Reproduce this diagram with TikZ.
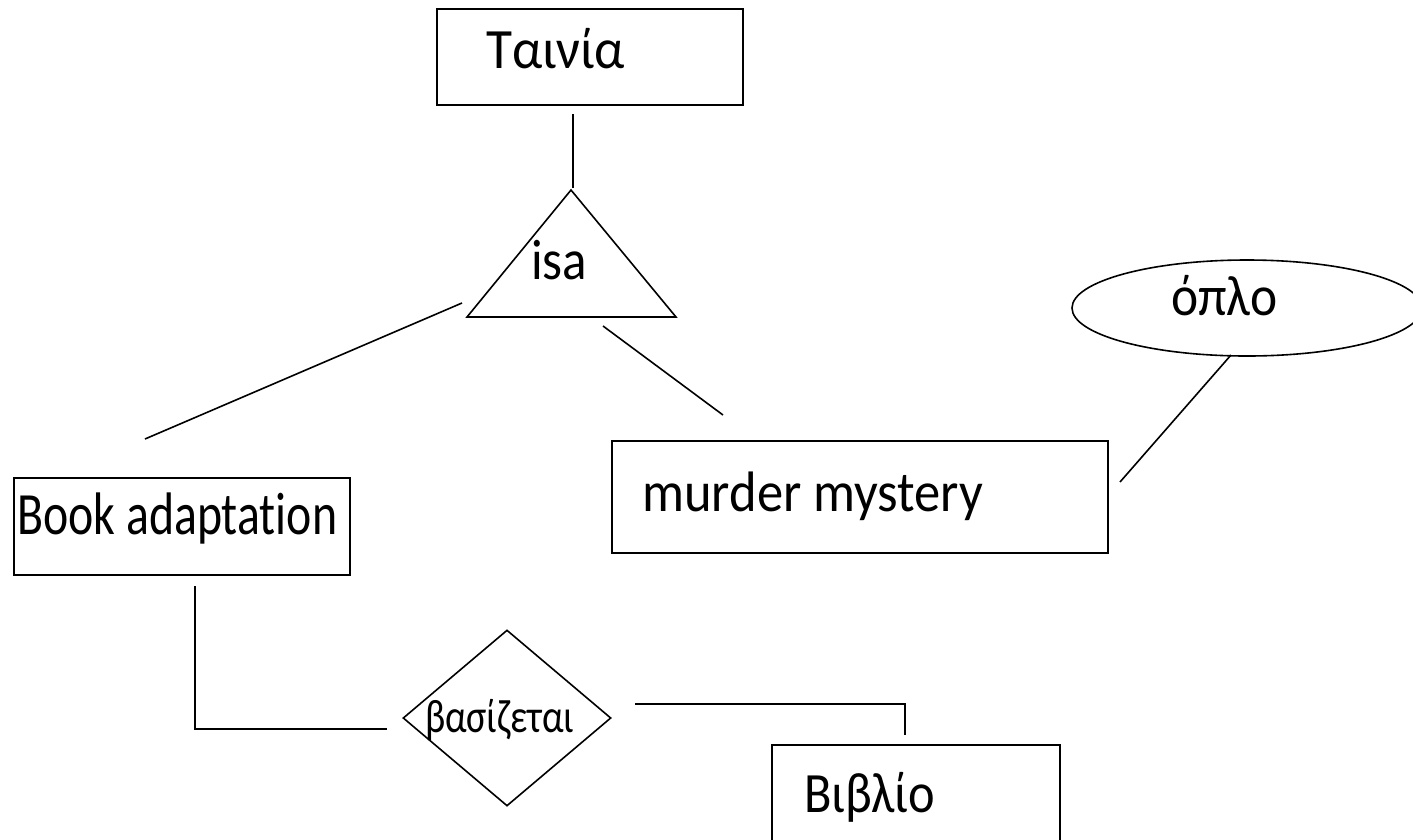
\documentclass[tikz,border=0pt]{standalone}
\usepackage{fontspec}
\setmainfont[Ligatures={NoCommon},RawFeature={-liga}]{Carlito}
\usetikzlibrary{shapes.geometric}
\newcommand\fitw[2]{\resizebox{#1}{\height}{#2}}
\begin{document}
\begin{tikzpicture}[x=1pt,y=-1pt,
  box/.style={draw, rectangle, line width=2pt, inner sep=0pt, anchor=north west},
  lbl/.style={inner sep=0pt, anchor=base west, font=\fontsize{57}{60}\selectfont},
  biglbl/.style={inner sep=0pt, anchor=base west, font=\fontsize{60}{64}\selectfont},
  smalllbl/.style={inner sep=0pt, anchor=base west, font=\fontsize{47}{50}\selectfont},
  conn/.style={line width=1.6pt}]
\useasboundingbox (0,0) rectangle (1413,839);
% entity boxes
\node[box, minimum width=306pt, minimum height=96pt] (taini) at (436,8) {};
\node[box, minimum width=496pt, minimum height=112pt] (murder) at (611,440) {};
\node[box, minimum width=336pt, minimum height=97pt] (book) at (13,477) {};
\node[box, minimum width=288pt, minimum height=110pt] (vivlio) at (771,744) {};
% isa triangle
\coordinate (isaT) at (571,190);
\coordinate (isaL) at (467,317);
\coordinate (isaR) at (676,317);
\draw[conn] (isaT) -- (isaL) -- (isaR) -- cycle;
% relationship diamond
\node[draw, diamond, line width=1.6pt, minimum width=208pt, minimum height=176pt, inner sep=0pt] (rel) at (507,718) {};
% attribute ellipse
\node[draw, ellipse, line width=1.6pt, minimum width=350pt, minimum height=96pt, inner sep=0pt] (oplo) at (1247,308) {};
% labels
\node[lbl] (taintxt) at (486,68) {\fitw{139pt}{Ταινία}};
\node[lbl] (isatxt) at (531,279) {\fitw{56pt}{isa}};
\node[lbl] (oplotxt) at (1171,315) {\fitw{106pt}{όπλο}};
\node[lbl] (murdertxt) at (642,511) {\fitw{341pt}{murder mystery}};
\node[biglbl] (booktxt) at (17,534) {\fitw{320pt}{Book adaptation}};
\node[smalllbl] (reltxt) at (425,732) {\fitw{149pt}{βασίζεται}};
\node[lbl] (vivliotxt) at (804,812) {\fitw{131pt}{Βιβλίο}};
% connectors
\coordinate (c1a) at (573,114); \coordinate (c1b) at (573,188);
\draw[conn] (c1a) -- (c1b);
\coordinate (c2a) at (462,303); \coordinate (c2b) at (145,439);
\draw[conn] (c2a) -- (c2b);
\coordinate (c3a) at (603,326); \coordinate (c3b) at (723,415);
\draw[conn] (c3a) -- (c3b);
\coordinate (c4a) at (1231,355); \coordinate (c4b) at (1120,482);
\draw[conn] (c4a) -- (c4b);
\coordinate (c5a) at (195,586); \coordinate (c5b) at (195,729); \coordinate (c5c) at (387,729);
\draw[conn] (c5a) -- (c5b) -- (c5c);
\coordinate (c6a) at (635,704); \coordinate (c6b) at (905,704); \coordinate (c6c) at (905,735);
\draw[conn] (c6a) -- (c6b) -- (c6c);
\end{tikzpicture}
\end{document}
